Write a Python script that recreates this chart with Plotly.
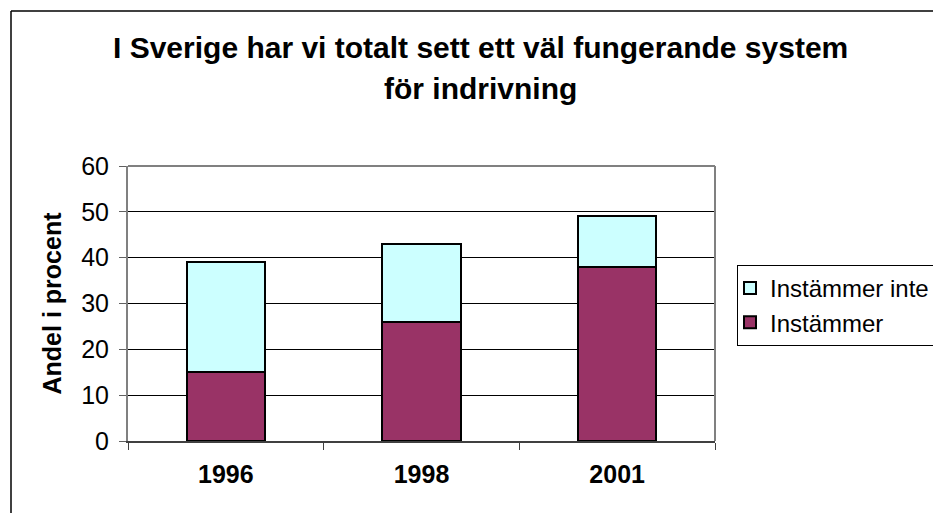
import plotly.graph_objects as go

years = ["1996", "1998", "2001"]
instammer = [15, 26, 38]
instammer_inte = [24, 17, 11]
title_lines = ["I Sverige har vi totalt sett ett väl fungerande system", "för indrivning"]
y_title = "Andel i procent"

OFF = 8  # page body margin
W, H = 941 - OFF, 513 - OFF
# plot area in screen pixels
SL, SR, ST, SB = 128, 715, 166, 441
L, R, T, B = SL - OFF, SR - OFF, ST - OFF, SB - OFF
pw, ph = R - L, B - T

def px(x):  # screen x -> paper
    return (x - OFF - L) / pw

def py(y):  # screen y -> paper
    return (B - (y - OFF)) / ph

FONT = "Liberation Sans, Arial, sans-serif"
FS = 25

fig = go.Figure()
fig.add_trace(go.Bar(
    x=years, y=instammer, name="Instämmer",
    marker=dict(color="#993366", line=dict(color="black", width=2)),
))
fig.add_trace(go.Bar(
    x=years, y=instammer_inte, name="Instämmer inte",
    marker=dict(color="#CCFFFF", line=dict(color="black", width=2)),
))

fig.update_layout(
    width=W, height=H,
    margin=dict(l=L, r=W - R, t=T, b=H - B, autoexpand=False),
    barmode="stack", bargap=0.6,
    plot_bgcolor="white", paper_bgcolor="white",
    font=dict(family=FONT, color="black", size=FS),
    showlegend=True,
    legend=dict(
        x=px(737), y=py(265), xanchor="left", yanchor="top",
        bordercolor="black", borderwidth=1, bgcolor="white",
        traceorder="reversed",
        itemwidth=30, indentation=-8,
        font=dict(size=24, family=FONT),
    ),
    xaxis=dict(
        showline=True, linecolor="#404040", linewidth=2,
        ticks="outside", tickson="boundaries", ticklen=7, tickcolor="#404040",
        ticklabelstandoff=10,
        tickfont=dict(size=FS, family=FONT, weight="bold"),
        showgrid=False, range=[-0.5, 2.5],
    ),
    yaxis=dict(
        range=[0, 60], dtick=10, tick0=0,
        showline=True, linecolor="#808080", linewidth=2,
        ticks="outside", ticklen=7, tickcolor="#606060",
        ticklabelstandoff=5,
        tickfont=dict(size=FS, family=FONT),
        showgrid=True, gridcolor="black", gridwidth=1,
        zeroline=False,
        title=dict(text=y_title, font=dict(size=FS, family=FONT, weight="bold"), standoff=12),
    ),
    shapes=[
        dict(type="line", xref="paper", yref="paper", x0=0, x1=1, y0=1, y1=1,
             line=dict(color="#808080", width=2)),
        dict(type="line", xref="paper", yref="paper", x0=1, x1=1, y0=0, y1=1,
             line=dict(color="#808080", width=2)),
        dict(type="line", xref="paper", yref="paper", x0=px(11), x1=px(11), y0=py(11), y1=py(530),
             line=dict(color="black", width=1.5)),
        dict(type="line", xref="paper", yref="paper", x0=px(11), x1=px(960), y0=py(11), y1=py(11),
             line=dict(color="black", width=1.5)),
    ],
    annotations=[
        dict(text=title_lines[0], xref="paper", yref="paper", x=px(480), y=py(47),
             xanchor="center", yanchor="middle", showarrow=False,
             font=dict(size=30, family=FONT, weight="bold")),
        dict(text=title_lines[1], xref="paper", yref="paper", x=px(480), y=py(89),
             xanchor="center", yanchor="middle", showarrow=False,
             font=dict(size=30, family=FONT, weight="bold")),
    ],
)

fig.write_html("out.html")
